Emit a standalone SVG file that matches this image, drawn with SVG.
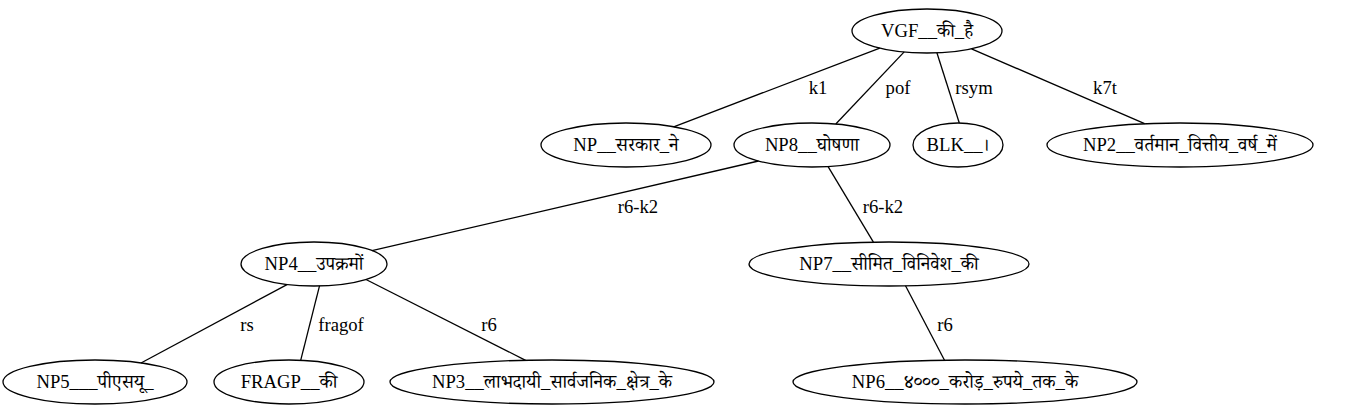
<svg xmlns="http://www.w3.org/2000/svg" width="1361" height="411" viewBox="0 0 1361 411">
<style>
  .node ellipse { fill: none; stroke: #000; stroke-width: 1.3; }
  text { font-family: "Liberation Serif", "Noto Serif Devanagari", "Noto Sans Devanagari", serif; font-size: 18.67px; fill: #000; text-anchor: middle; }
  .edges line { stroke: #000; stroke-width: 1.3; }
</style>
<rect width="1361" height="411" fill="#fff"/>
<g id="edges" class="edges">
  <line x1="879.8" y1="48.1" x2="673.7" y2="126.8"/>
  <text x="818" y="94">k1</text>
  <line x1="904.2" y1="51.9" x2="835.8" y2="124"/>
  <text x="898" y="94">pof</text>
  <line x1="936.9" y1="52.8" x2="959.3" y2="123"/>
  <text x="974" y="94">rsym</text>
  <line x1="971.5" y1="48.8" x2="1144.6" y2="123.7"/>
  <text x="1105" y="94">k7t</text>
  <line x1="758.5" y1="161" x2="372" y2="250.7"/>
  <text x="638" y="213">r6-k2</text>
  <line x1="828.1" y1="166.6" x2="873.4" y2="242.1"/>
  <text x="883" y="213">r6-k2</text>
  <line x1="287" y1="284.6" x2="141" y2="363"/>
  <text x="247" y="331">rs</text>
  <line x1="319.5" y1="285.9" x2="300.7" y2="360.3"/>
  <text x="341" y="331">fragof</text>
  <line x1="366" y1="279.5" x2="525.6" y2="360.3"/>
  <text x="489" y="331">r6</text>
  <line x1="905.5" y1="285.8" x2="944.5" y2="360.2"/>
  <text x="945" y="331">r6</text>
</g>
<g id="n_vgf" class="node"><ellipse cx="927" cy="31" rx="75" ry="22"/><text x="927" y="37">VGF__की_है</text></g>
<g id="n_np_sarkar" class="node"><ellipse cx="626" cy="145" rx="85" ry="22"/><text x="626" y="151">NP__सरकार_ने</text></g>
<g id="n_np8" class="node"><ellipse cx="812" cy="145" rx="78" ry="22"/><text x="812" y="151">NP8__घोषणा</text></g>
<g id="n_blk" class="node"><ellipse cx="958" cy="145" rx="45" ry="22"/><text x="958" y="151">BLK__।</text></g>
<g id="n_np2" class="node"><ellipse cx="1180" cy="145" rx="133" ry="22"/><text x="1180" y="151">NP2__वर्तमान_वित्तीय_वर्ष_में</text></g>
<g id="n_np4" class="node"><ellipse cx="314" cy="264" rx="73" ry="22"/><text x="314" y="270">NP4__उपक्रमों</text></g>
<g id="n_np7" class="node"><ellipse cx="889" cy="264" rx="140" ry="22"/><text x="889" y="270">NP7__सीमित_विनिवेश_की</text></g>
<g id="n_np5" class="node"><ellipse cx="95" cy="382" rx="92" ry="22"/><text x="95" y="388">NP5___पीएसयू_</text></g>
<g id="n_fragp" class="node"><ellipse cx="289" cy="382" rx="75" ry="22"/><text x="289" y="388">FRAGP__की</text></g>
<g id="n_np3" class="node"><ellipse cx="552" cy="382" rx="162" ry="22"/><text x="552" y="388">NP3__लाभदायी_सार्वजनिक_क्षेत्र_के</text></g>
<g id="n_np6" class="node"><ellipse cx="965" cy="382" rx="172" ry="22"/><text x="965" y="388">NP6__४०००_करोड़_रुपये_तक_के</text></g>
</svg>
